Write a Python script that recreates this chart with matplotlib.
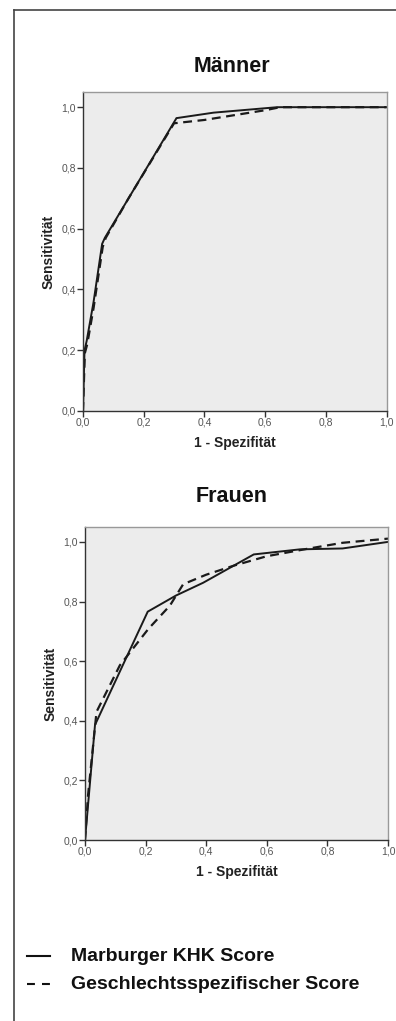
import matplotlib
matplotlib.use("Agg")
import matplotlib.pyplot as plt
from matplotlib.lines import Line2D

plt.rcParams['font.family'] = ['Liberation Sans', 'DejaVu Sans']

# Männer
m_marburg_x = [0.0, 0.005, 0.012, 0.035, 0.063, 0.072, 0.15, 0.308, 0.43, 0.64, 1.0]
m_marburg_y = [0.0, 0.20, 0.23, 0.36, 0.55, 0.57, 0.70, 0.964, 0.982, 1.0, 1.0]
m_gender_x = [0.0, 0.006, 0.014, 0.035, 0.065, 0.075, 0.15, 0.30, 0.40, 0.60, 0.65, 1.0]
m_gender_y = [0.0, 0.19, 0.22, 0.34, 0.54, 0.57, 0.70, 0.947, 0.958, 0.99, 1.0, 1.0]

# Frauen
f_marburg_x = [0.0, 0.033, 0.207, 0.30, 0.39, 0.557, 0.709, 0.85, 1.0]
f_marburg_y = [0.0, 0.386, 0.766, 0.82, 0.863, 0.958, 0.975, 0.978, 1.0]
f_gender_x = [0.0, 0.01, 0.038, 0.115, 0.209, 0.28, 0.324, 0.40, 0.49, 0.60, 0.74, 0.85, 1.0]
f_gender_y = [0.0, 0.15, 0.43, 0.586, 0.708, 0.786, 0.858, 0.89, 0.92, 0.952, 0.978, 0.997, 1.011]

ticks = [0.0, 0.2, 0.4, 0.6, 0.8, 1.0]
tick_labels = ["0,0", "0,2", "0,4", "0,6", "0,8", "1,0"]

panels = [
    ("Männer", m_marburg_x, m_marburg_y, m_gender_x, m_gender_y,
     [83/396, 1-411/1021, 303.5/396, 319/1021], 67),
    ("Frauen", f_marburg_x, f_marburg_y, f_gender_x, f_gender_y,
     [85/396, 1-840/1021, 303/396, 313/1021], 497),
]

fig = plt.figure(figsize=(3.96, 10.21), dpi=100)

for title, mx, my, gx, gy, rect, ty in panels:
    ax = fig.add_axes(rect)
    ax.set_facecolor('#ececec')
    ax.plot(mx, my, color='#1a1a1a', lw=1.4, solid_joinstyle='miter')
    ax.plot(gx, gy, color='#1a1a1a', lw=1.6, linestyle=(0, (4, 2.5)))
    ax.set_xlim(0, 1.0)
    ax.set_ylim(0, 1.05)
    ax.set_xticks(ticks)
    ax.set_xticklabels(tick_labels)
    ax.set_yticks(ticks)
    ax.set_yticklabels(tick_labels)
    ax.tick_params(direction='out', length=4, width=1, color='#333333',
                   labelsize=7.5, labelcolor='#555555', pad=1)
    for s in ax.spines.values():
        s.set_color('#999999')
        s.set_linewidth(1.0)
    ax.spines['left'].set_color('#333333')
    ax.spines['bottom'].set_color('#333333')
    ax.set_xlabel("1 - Spezifität", fontsize=10, fontweight='bold', color='#222222', labelpad=6)
    ax.set_ylabel("Sensitivität", fontsize=10, fontweight='bold', color='#222222', labelpad=4)
    fig.text(0.585, 1 - ty/1021, title, ha='center', va='center', fontsize=15.5,
             fontweight='bold', color='#111111')

# outer frame
fig.add_artist(Line2D([14/396, 14/396], [1 - 10/1021, 0], transform=fig.transFigure,
                      color='#444444', lw=1.2))
fig.add_artist(Line2D([14/396, 1], [1 - 10/1021, 1 - 10/1021], transform=fig.transFigure,
                      color='#444444', lw=1.2))

# legend
legend_items = [("Marburger KHK Score", '-', 956), ("Geschlechtsspezifischer Score", (0, (3.8, 3.4)), 984)]
for label, ls, y in legend_items:
    yf = 1 - y/1021
    fig.add_artist(Line2D([27/396, 50/396], [yf, yf], transform=fig.transFigure,
                          color='#111111', lw=1.5, linestyle=ls))
    fig.text(71/396, yf, label, ha='left', va='center', fontsize=14,
             fontweight='bold', color='#111111')

fig.savefig("out.png", dpi=100)
